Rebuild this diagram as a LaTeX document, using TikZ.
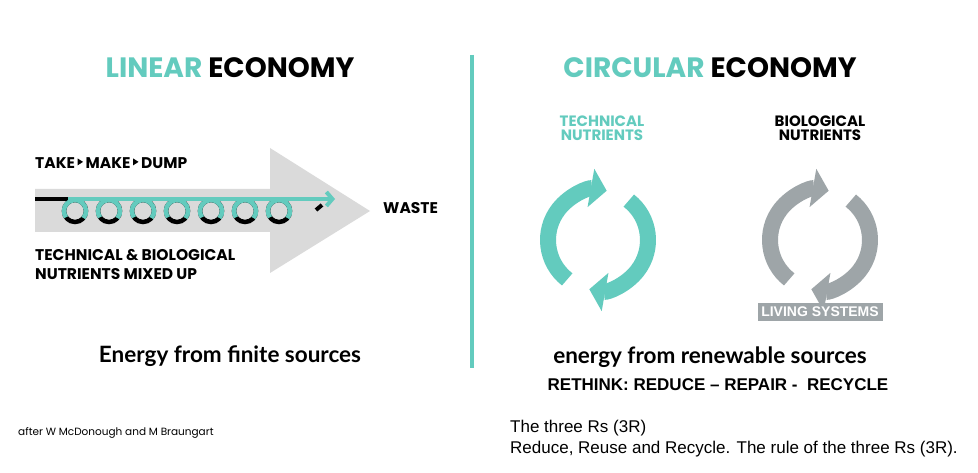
\documentclass[tikz,border=0pt]{standalone}
\usepackage{fontspec}
\setmainfont{Poppins}
\newfontfamily\arial{Liberation Sans}
\newfontfamily\lato{Lato}
\usetikzlibrary{arrows.meta,calc}
\definecolor{teal1}{HTML}{63CBBE}
\definecolor{greyA}{HTML}{DADADA}
\definecolor{greyB}{HTML}{9EA5A8}
\newcommand{\tri}{\,\tikz[baseline=0pt]\fill (0,3pt) -- (5.5pt,6.5pt) -- (0,10pt) -- cycle;\,}
\tikzset{
  title/.style={font=\bfseries\fontsize{28}{30}\selectfont, inner sep=0},
  lab/.style={font=\bfseries\fontsize{15.5}{19}\selectfont, inner sep=0, anchor=west},
  sub/.style={font=\bfseries\fontsize{15}{14}\selectfont, inner sep=0, align=center},
  energy/.style={font=\lato\bfseries\fontsize{22.5}{24}\selectfont, inner sep=0},
  cyc/.style={line width=16pt, -{Triangle[length=16pt,width=38pt]}},
}
\begin{document}
\begin{tikzpicture}[x=1pt,y=1pt]
\useasboundingbox[fill=white] (0,0) rectangle (978,-473);
% titles
\node[title] (lin) at (230,-68) {\textcolor{teal1}{LINEAR} ECONOMY};
\node[title] (circ) at (710,-68) {\textcolor{teal1}{CIRCULAR} ECONOMY};
\draw[teal1, line width=3.5pt] (472,-55) -- (472,-368);
% grey arrow
\fill[greyA] (35,-189) -- (270,-189) -- (270,-148) -- (370,-211) -- (270,-273) -- (270,-232) -- (35,-232) -- cycle;
\node[lab] (tmd) at (35,-163) {TAKE\tri MAKE\tri DUMP};
\coordinate (ls) at (35,-199);
\coordinate (lm) at (68,-199);
\coordinate (le) at (335,-199);
\draw[black, line width=4pt] (ls) -- (lm);
\foreach \x in {75,109,143,177,211,245,279}{
  \draw[black, line width=4.5pt] (\x,-211) circle[radius=11];
  \draw[teal1, line width=4.5pt] (\x,-211) ++(-40:11) arc[start angle=-40, end angle=215, radius=11];
}
\draw[black, line width=4pt] (316,-210) -- (322,-205);
\draw[teal1, line width=4pt, -{Straight Barb[length=6pt,width=14pt]}] (lm) -- (le);
\node[lab] (mix) at (35,-266) {\begin{tabular}{@{}l@{}}TECHNICAL \& BIOLOGICAL\\ NUTRIENTS MIXED UP\end{tabular}};
\node[lab] (waste) at (383,-208) {WASTE};
% technical cycle
\node[sub, text=teal1] (tech) at (602,-128) {TECHNICAL\\ NUTRIENTS};
\coordinate (tc) at (598,-240);
\draw[cyc, teal1] (tc) ++(232:50) arc[start angle=232, end angle=80, radius=50];
\draw[cyc, teal1] (tc) ++(52:50) arc[start angle=52, end angle=-100, radius=50];
% biological cycle
\node[sub] (bio) at (820,-128) {BIOLOGICAL\\ NUTRIENTS};
\coordinate (bc) at (820,-240);
\draw[cyc, greyB] (bc) ++(232:50) arc[start angle=232, end angle=80, radius=50];
\draw[cyc, greyB] (bc) ++(52:50) arc[start angle=52, end angle=-100, radius=50];
\node[fill=greyB, text=white, minimum width=125pt, minimum height=18pt, inner sep=0, font=\arial\bfseries\fontsize{14}{14}\selectfont] (liv) at (820,-312) {LIVING SYSTEMS};
% energy
\node[energy] (ef) at (230,-356) {Energy from finite sources};
\node[energy] (er) at (710,-357) {energy from renewable sources};
\node[inner sep=0, font=\arial\bfseries\fontsize{17}{17}\selectfont] (re) at (718,-385) {RETHINK: REDUCE \textendash{} REPAIR -\ \ RECYCLE};
\node[inner sep=0, anchor=west, font=\fontsize{10.5}{10}\selectfont] (aft) at (18,-433) {after W McDonough and M Braungart};
\node[inner sep=0, anchor=west, font=\arial\fontsize{17}{17}\selectfont] (t1) at (510,-428) {The three Rs (3R)};
\node[inner sep=0, anchor=west, font=\arial\fontsize{17}{17}\selectfont] (t2) at (510,-449) {Reduce, Reuse and Recycle. The rule of the three Rs (3R).};
\end{tikzpicture}
\end{document}
